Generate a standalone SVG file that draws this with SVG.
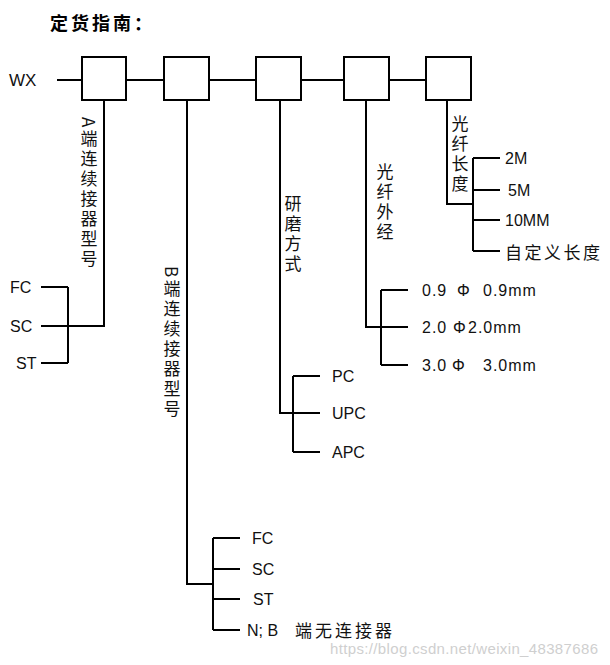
<svg xmlns="http://www.w3.org/2000/svg" width="610" height="665" viewBox="0 0 610 665">
<style>
.ln{stroke:#000;stroke-width:2;fill:none}
.bx{stroke:#000;stroke-width:2;fill:#fff}
.t{font-family:"Liberation Sans","Noto Sans CJK SC",sans-serif;font-size:16px;fill:#111;dominant-baseline:central}
.d{letter-spacing:1px}
.v{font-family:"Noto Sans CJK SC","Liberation Sans",sans-serif;font-size:17px;fill:#111;writing-mode:vertical-rl;letter-spacing:3px}
.c{font-family:"Noto Sans CJK SC",sans-serif;font-size:17px;fill:#111;dominant-baseline:central}
</style>
<rect width="610" height="665" fill="#fff"/>
<text x="50" y="22" style="font-family:'Noto Sans CJK SC',sans-serif;font-size:18px;font-weight:bold;letter-spacing:3px;dominant-baseline:central">定货指南：</text>
<text class="t" x="9" y="80" style="font-size:17px">WX</text>
<g id="connectors">
<path class="ln" d="M57 80H426"/>
<path class="ln" d="M104 100V326H41M68 287V363M41 287H68M41 363H68"/>
<path class="ln" d="M187 100V584H213M213 538V630M213 538H240M213 569H240M213 599H240M213 630H240"/>
<path class="ln" d="M280 100V413H293M293 376V452M293 376H320M293 413H320M293 452H320"/>
<path class="ln" d="M366 100V327H381M381 290V365M381 290H408M381 327H408M381 365H408"/>
<path class="ln" d="M447 100V204H473M473 158V251M473 158H500M473 190H500M473 220H500M473 251H500"/>
</g>
<g id="box1"><rect class="bx" x="82" y="57" width="44" height="43"/></g>
<g id="box2"><rect class="bx" x="164" y="57" width="45" height="43"/></g>
<g id="box3"><rect class="bx" x="256" y="57" width="45" height="43"/></g>
<g id="box4"><rect class="bx" x="344" y="57" width="45" height="43"/></g>
<g id="box5"><rect class="bx" x="426" y="57" width="45" height="43"/></g>
<g id="a-type">
<text class="v" x="89" y="117">A端连续接器型号</text>
<text class="t" x="10" y="287">FC</text>
<text class="t" x="10" y="326">SC</text>
<text class="t" x="16" y="363">ST</text>
</g>
<g id="b-type">
<text class="v" x="172" y="266">B<tspan y="280">端连续接器型号</tspan></text>
<text class="t" x="252" y="538">FC</text>
<text class="t" x="252" y="569">SC</text>
<text class="t" x="253" y="599">ST</text>
<text class="t" x="247" y="630">N; B</text>
<text class="c" x="295" y="629" style="letter-spacing:3px">端无连接器</text>
</g>
<g id="polish">
<text class="v" x="293" y="195">研磨方式</text>
<text class="t" x="332" y="376">PC</text>
<text class="t" x="332" y="413">UPC</text>
<text class="t" x="332" y="452">APC</text>
</g>
<g id="diameter">
<text class="v" x="385" y="163">光纤外经</text>
<text class="t d" x="422" y="290">0.9<tspan x="457">Φ</tspan><tspan x="483">0.9mm</tspan></text>
<text class="t d" x="422" y="327">2.0<tspan x="453">Φ</tspan><tspan x="468">2.0mm</tspan></text>
<text class="t d" x="422" y="365">3.0<tspan x="452">Φ</tspan><tspan x="483">3.0mm</tspan></text>
</g>
<g id="length">
<text class="v" x="460" y="115">光纤长度</text>
<text class="t" x="505" y="158">2M</text>
<text class="t" x="508" y="190">5M</text>
<text class="t" x="505" y="220">10MM</text>
<text class="c" x="505" y="251" style="letter-spacing:2.5px">自定义长度</text>
</g>
<text x="330" y="648" textLength="268" style="font-family:'Liberation Sans',sans-serif;font-size:15px;fill:#cfcfcf;dominant-baseline:central">https://blog.csdn.net/weixin_48387686</text>
</svg>
